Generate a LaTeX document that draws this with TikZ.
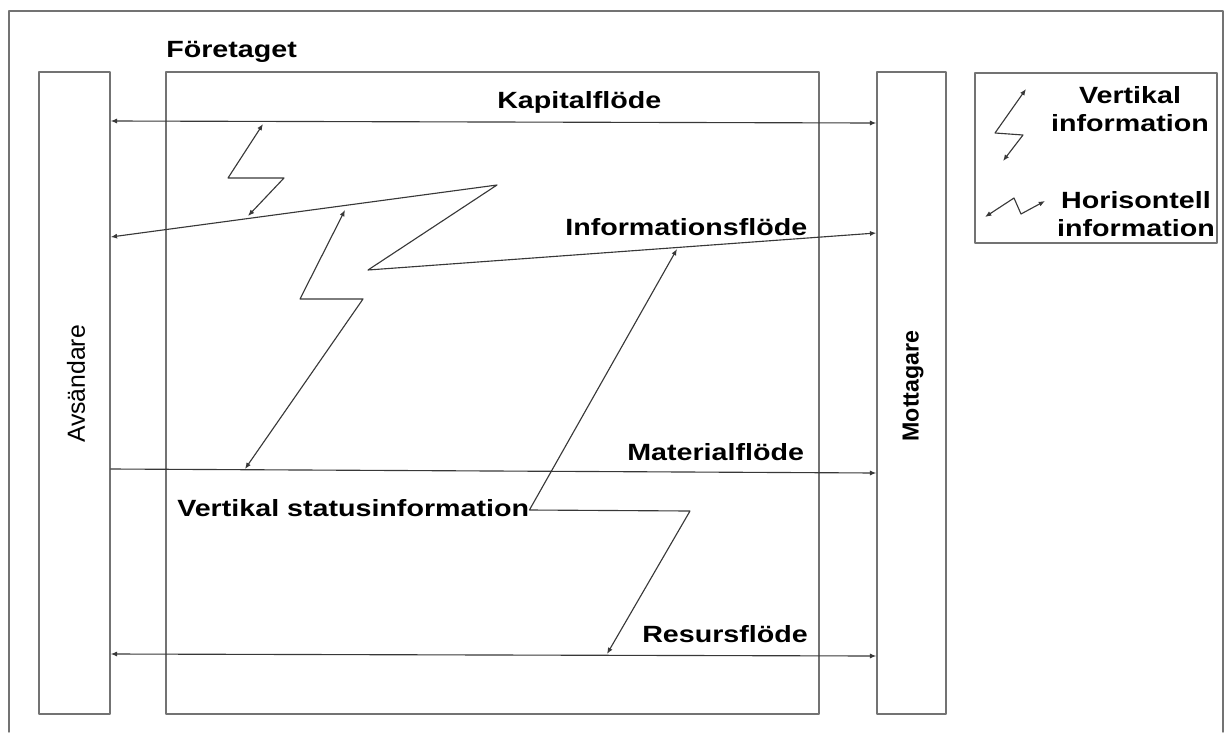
\documentclass[tikz,border=0pt]{standalone}
\usepackage{fontspec}
\setmainfont{Liberation Sans}
\newfontfamily\flowfont{Liberation Sans}[FakeStretch=1.22]
\usetikzlibrary{arrows.meta,fit,positioning}
\tikzset{
  box/.style={draw=black!55,line width=1pt,inner sep=0pt},
  flow/.style={draw=black!78,line width=0.8pt},
  flowlabel/.style={font=\flowfont\bfseries\fontsize{16.7}{19.9}\selectfont,inner sep=0pt},
  >={Latex[length=4.5pt,width=3.6pt]}
}

\begin{document}
\begin{tikzpicture}[x=0.025cm,y=-0.025cm,line cap=round,line join=round]
  \useasboundingbox (0,0) rectangle (1224,732);

  % --- Frame (open at the bottom) ---
  \draw[black!55,line width=1pt] (9,732) -- (9,11) -- (1223,11) -- (1223,732);

  % --- Boxes ---
  \node[box,fit={(39,72) (110,714)}] (avs) {};
  \node[box,fit={(166,72) (819,714)}] (firm) {};
  \node[box,fit={(877,72) (946,714)}] (mott) {};
  \node[box,fit={(975,73) (1217,243)}] (legend) {};

  \node[rotate=90,inner sep=0pt,font=\fontsize{17.6}{20}\selectfont] (avs-text) at (76,384) {Avsändare};
  \node[rotate=90,inner sep=0pt,font=\bfseries\fontsize{16.5}{20}\selectfont] (mott-text) at (913,386) {Mottagare};
  \node[flowlabel,anchor=base west] (firm-text) at (166,57) {Företaget};

  % --- Flows between sender and receiver ---
  \draw[flow,<->] (avs.east |- 0,121) -- (mott.west |- 0,123);
  \node[flowlabel,anchor=base west] (kap) at (497,108) {Kapitalflöde};

  \draw[flow,<->] (avs.east |- 0,237) -- (497,185) -- (368,270) -- (mott.west |- 0,233);
  \node[flowlabel,anchor=base west] (info) at (565,235) {Informationsflöde};

  \draw[flow,->] (avs.east |- 0,469) -- (mott.west |- 0,473);
  \node[flowlabel,anchor=base west] (mat) at (627,460) {Materialflöde};

  \draw[flow,<->] (avs.east |- 0,654) -- (mott.west |- 0,656);
  \node[flowlabel,anchor=base west] (res) at (642,642) {Resursflöde};

  % --- Vertical information ---
  \coordinate (v1-top) at (263,124);
  \coordinate (v1-bot) at (248,216);
  \draw[flow,<->] (v1-top) -- (228,178) -- (284,178) -- (v1-bot);

  \coordinate (v2-top) at (345,210);
  \coordinate (v2-bot) at (245,469);
  \draw[flow,<->] (v2-top) -- (300,299) -- (363,299) -- (v2-bot);

  \node[flowlabel,anchor=base west] (status) at (177,516) {Vertikal statusinformation};
  \coordinate (st-top) at (677,249);
  \coordinate (st-bot) at (607,654);
  \draw[flow,<->] (st-top) -- (status.east |- 0,510) -- (690,511) -- (st-bot);

  % --- Legend ---
  \coordinate (lv-a) at (1026,89);
  \coordinate (lv-b) at (1003,161);
  \draw[flow,<->] (lv-a) -- (995,133) -- (1023,135) -- (lv-b);
  \node[flowlabel,anchor=north,align=center] (leg-vert) at (1130,86) {Vertikal\\information};

  \coordinate (lh-a) at (985,217);
  \coordinate (lh-b) at (1045,201);
  \draw[flow,<->] (lh-a) -- (1014,198) -- (1021,214) -- (lh-b);
  \node[flowlabel,anchor=north,align=center] (leg-hor) at (1136,191) {Horisontell\\information};
\end{tikzpicture}
\end{document}
